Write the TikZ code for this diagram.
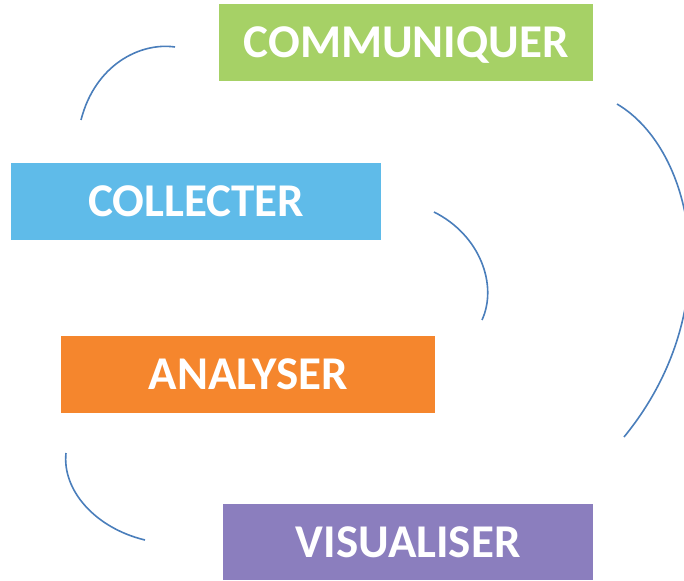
\documentclass[tikz,border=0pt]{standalone}
\usepackage{fontspec}
\setmainfont{Carlito}
\usetikzlibrary{positioning}
\definecolor{vertbox}{HTML}{A6D166}
\definecolor{bleubox}{HTML}{5FBBE9}
\definecolor{orangebox}{HTML}{F5862D}
\definecolor{violetbox}{HTML}{8B7EBE}
\definecolor{arcline}{HTML}{4A7EBB}
\tikzset{
        stage/.style={anchor=north west, inner sep=0pt, text=white, font=\fontsize{47}{50}\selectfont\bfseries,
                      text height=30.3pt, text depth=0pt, minimum height=77pt},
        % arcs between the stages
        cycle_arc/.style={draw=arcline, line width=1.6pt}
}
\begin{document}
\begin{tikzpicture}[x=1pt, y=-1pt]
    \useasboundingbox (0,0) rectangle (684,580);
    \clip (0,0) rectangle (684,580);
    \node[stage, fill=vertbox, minimum width=374pt] (communiquer) at (219,4) {COMMUNIQUER};
    \node[stage, fill=bleubox, minimum width=370pt] (collecter) at (11,163) {COLLECTER};
    \node[stage, fill=orangebox, minimum width=374pt] (analyser) at (61,336) {ANALYSER};
    \node[stage, fill=violetbox, minimum width=370pt, minimum height=76pt] (visualiser) at (223,504) {VISUALISER};
    % arc ends
    \coordinate (c1a) at (81,120);
    \coordinate (c1b) at (175,47);
    \coordinate (c2a) at (434,212);
    \coordinate (c2b) at (482,320);
    \coordinate (c3a) at (617,104);
    \coordinate (c3b) at (624,437);
    \coordinate (c4a) at (66,453);
    \coordinate (c4b) at (145,540);
    \draw[cycle_arc] (c1a) .. controls (95,65) and (140,42) .. (c1b);
    \draw[cycle_arc] (c2a) .. controls (480,235) and (498,285) .. (c2b);
    \draw[cycle_arc] (c3a) .. controls (695,150) and (728,310) .. (c3b);
    \draw[cycle_arc] (c4a) .. controls (62,490) and (95,528) .. (c4b);
\end{tikzpicture}
\end{document}
